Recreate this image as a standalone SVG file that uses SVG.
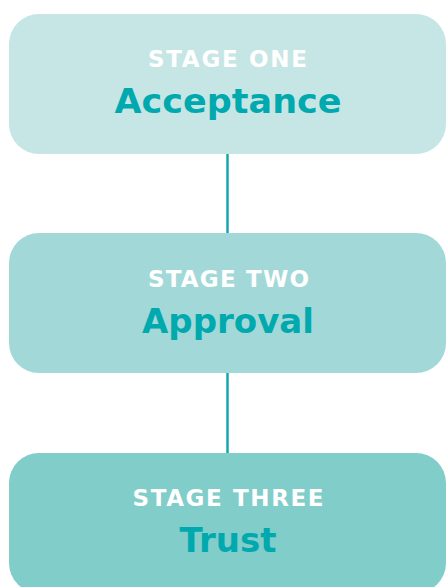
<svg xmlns="http://www.w3.org/2000/svg" width="446" height="587" viewBox="0 0 446 587">
  <style>
    .stage { font-family: "DejaVu Sans", "Liberation Sans", sans-serif; font-weight: bold; font-size: 23px; fill: #ffffff; text-anchor: middle; }
    .name { font-family: "DejaVu Sans", "Liberation Sans", sans-serif; font-weight: bold; font-size: 34px; fill: #00a9ae; text-anchor: middle; }
    .link { stroke: #13a8b0; stroke-width: 2.5; fill: none; }
  </style>
  <rect width="446" height="587" fill="#ffffff"/>
  <g id="connectors">
    <line class="link" x1="227.5" y1="154" x2="227.5" y2="233"/>
    <line class="link" x1="227.5" y1="373" x2="227.5" y2="453"/>
  </g>
  <g id="stage-one">
    <rect x="9" y="14" width="437" height="140" rx="30" fill="#c6e6e5"/>
    <text class="stage" x="227.5" y="66.5" textLength="159" lengthAdjust="spacing">STAGE ONE</text>
    <text class="name" x="228" y="113" textLength="227" lengthAdjust="spacingAndGlyphs">Acceptance</text>
  </g>
  <g id="stage-two">
    <rect x="9" y="233" width="437" height="140" rx="30" fill="#a2d9d8"/>
    <text class="stage" x="228.5" y="286.5" textLength="161" lengthAdjust="spacing">STAGE TWO</text>
    <text class="name" x="228" y="333" textLength="172" lengthAdjust="spacingAndGlyphs">Approval</text>
  </g>
  <g id="stage-three">
    <rect x="9" y="453" width="437" height="140" rx="30" fill="#80cdca"/>
    <text class="stage" x="228" y="506" textLength="191" lengthAdjust="spacing">STAGE THREE</text>
    <text class="name" x="228" y="552" textLength="97" lengthAdjust="spacingAndGlyphs">Trust</text>
  </g>
</svg>
